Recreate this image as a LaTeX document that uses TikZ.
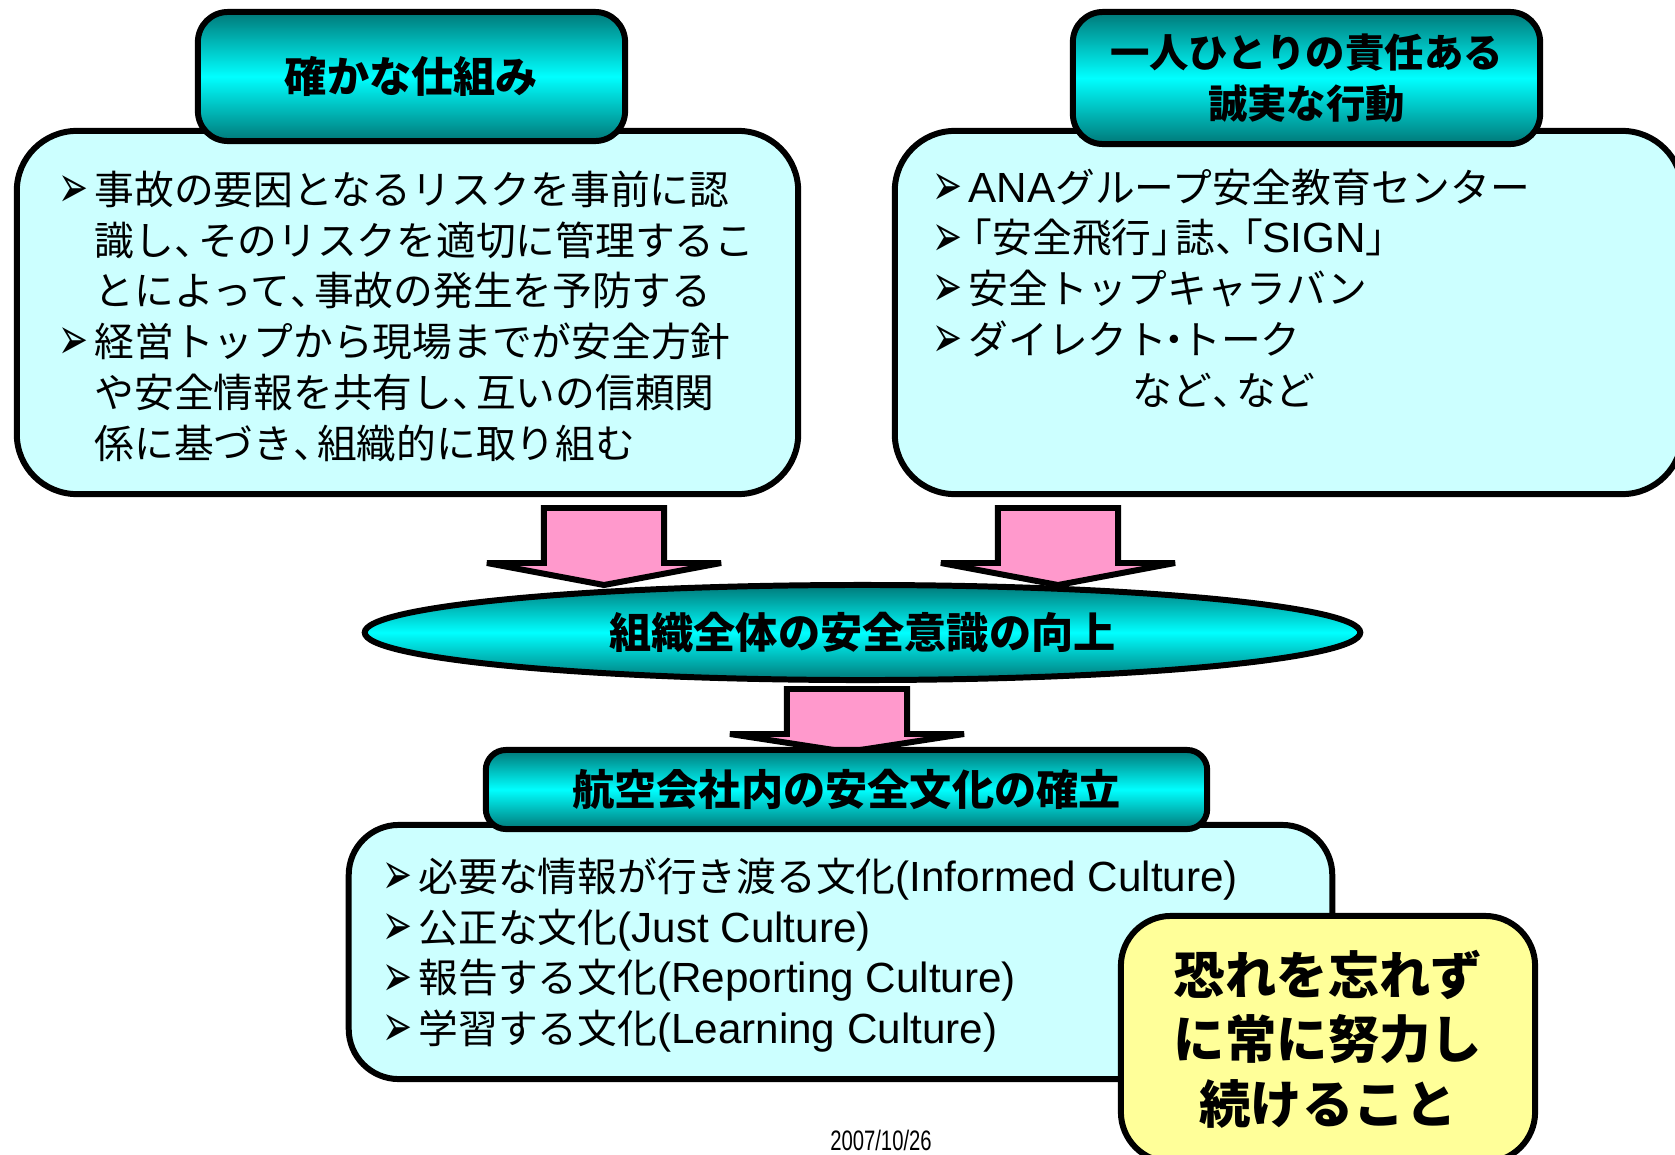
\documentclass[tikz,border=0pt]{standalone}
\usepackage{fontspec}
\setmainfont{Noto Sans CJK JP}
\newfontfamily\dingfont{DejaVu Sans}
\newfontfamily\latinfont{Liberation Sans}
\newfontfamily\datefont[FakeStretch=0.72]{Liberation Sans}
\usetikzlibrary{shapes.geometric,calc}

\definecolor{headdark}{RGB}{0,120,120}
\definecolor{headcyan}{RGB}{0,255,255}
\definecolor{bodycyan}{RGB}{204,255,255}
\definecolor{arrowpink}{RGB}{255,153,204}
\definecolor{notepale}{RGB}{255,255,153}

\newcommand{\bodyfont}{\fontsize{11.3pt}{14.45pt}\selectfont}
\newcommand{\headfont}{\fontsize{12pt}{14.5pt}\selectfont\bfseries}
\newcommand{\bul}[1][0.36cm]{\makebox[#1][l]{\raisebox{-0.08em}{\scalebox{0.6}[1]{\fontsize{17pt}{17pt}\dingfont ➢}}}}
\newcommand{\ind}{\hspace*{0.36cm}}
\newcommand{\ten}{\makebox[0.6em][l]{、}}
\newcommand{\kakko}{\makebox[0.6em][r]{「}}
\newcommand{\kokka}{\makebox[0.6em][l]{」}}
\newcommand{\naka}{\makebox[0.35em][c]{・}}
\newcommand{\lat}[1]{{\latinfont\fontsize{12pt}{14.45pt}\selectfont #1}}
% pink block arrow: shaft top, tip, head depth
\newcommand{\pinkdown}[3]{%
  \draw[pinkarrow] let \p1=(#1), \p2=(#2) in
    (\x1-0.6cm,\y1) -- (\x1+0.6cm,\y1) -- (\x1+0.6cm,\y2+#3) -- (\x1+1.17cm,\y2+#3)
    -- (\x2,\y2) -- (\x1-1.17cm,\y2+#3) -- (\x1-0.6cm,\y2+#3) -- cycle;}

\tikzset{
  boxline/.style={draw=black, line width=1.7pt},
  headbox/.style={boxline, rounded corners=0.3cm, top color=headdark, bottom color=headdark,
    middle color=headcyan, inner sep=0pt, align=center, font=\headfont},
  bodybox/.style={boxline, fill=bodycyan, inner sep=0pt},
  bodytext/.style={anchor=north west, inner sep=0pt, align=left, font=\bodyfont},
  pinkarrow/.style={boxline, fill=arrowpink, line join=miter},
}

\begin{document}
\begin{tikzpicture}[x=0.01cm, y=-0.01cm]
    \useasboundingbox (0,0) rectangle (1675,1154);
    % top boxes
    \node[bodybox, rounded corners=0.6cm, minimum width=7.81cm, minimum height=3.63cm] (lbody) at (407.5,312.5) {};
    \node[bodybox, rounded corners=0.6cm, minimum width=7.87cm, minimum height=3.63cm] (rbody) at (1288.5,312.5) {};
    \node[headbox, minimum width=4.27cm, minimum height=1.29cm] (lhead) at (411.5,76.5) {確かな仕組み};
    \node[headbox, minimum width=4.67cm, minimum height=1.32cm, font=\fontsize{11.2pt}{14.5pt}\selectfont\bfseries] (rhead) at (1306.5,78) {一人ひとりの責任ある\\誠実な行動};
    \node[bodytext] (ltext) at (58,170) {\bul 事故の要因となるリスクを事前に認\\
      \ind 識し\ten そのリスクを適切に管理するこ\\
      \ind とによって\ten 事故の発生を予防する\\
      \bul 経営トップから現場までが安全方針\\
      \ind や安全情報を共有し\ten 互いの信頼関\\
      \ind 係に基づき\ten 組織的に取り組む};
    \node[bodytext] (rtext) at (932,168) {\bul\lat{ANA}グループ安全教育センター\\
      \bul\kakko 安全飛行\kokka 誌\ten\kakko\lat{SIGN}\kokka\\
      \bul 安全トップキャラバン\\
      \bul ダイレクト\naka トーク\\
      \hspace*{2cm}など\ten など};
    % middle
    \node[boxline, ellipse, inner sep=0pt, minimum width=9.95cm, minimum height=0.95cm,
      top color=headdark, bottom color=headdark, middle color=headcyan, font=\headfont] (aware) at (862.5,632.5) {組織全体の安全意識の向上};
    \coordinate (topL) at (604,508);
    \coordinate (tipL) at (604,585);
    \coordinate (topR) at (1058,508);
    \coordinate (tipR) at (1058,585);
    \coordinate (topM) at (847,689);
    \coordinate (tipM) at (847,752);
    \pinkdown{topL}{tipL}{0.22cm}
    \pinkdown{topR}{tipR}{0.22cm}
    \pinkdown{topM}{tipM}{0.18cm}
    % bottom
    \node[bodybox, rounded corners=0.5cm, minimum width=9.83cm, minimum height=2.54cm] (bbody) at (840.5,952) {};
    \node[headbox, rounded corners=0.2cm, minimum width=7.21cm, minimum height=0.79cm] (bhead) at (846.5,789.5) {航空会社内の安全文化の確立};
    \node[bodytext] (btext) at (382,857) {\bul 必要な情報が行き渡る文化\lat{(Informed Culture)}\\
      \bul 公正な文化\lat{(Just Culture)}\\
      \bul 報告する文化\lat{(Reporting Culture)}\\
      \bul 学習する文化\lat{(Learning Culture)}};
    \node[boxline, fill=notepale, rounded corners=0.5cm, inner sep=0pt, minimum width=4.14cm, minimum height=2.46cm,
      align=center, font=\fontsize{14.6pt}{18.35pt}\selectfont\bfseries] (keepon) at (1328,1039) {恐れを忘れず\\に常に努力し\\続けること};
    \node[inner sep=0pt, font=\datefont\fontsize{8pt}{9pt}\selectfont] (date) at (881,1140) {2007/10/26};
\end{tikzpicture}
\end{document}
